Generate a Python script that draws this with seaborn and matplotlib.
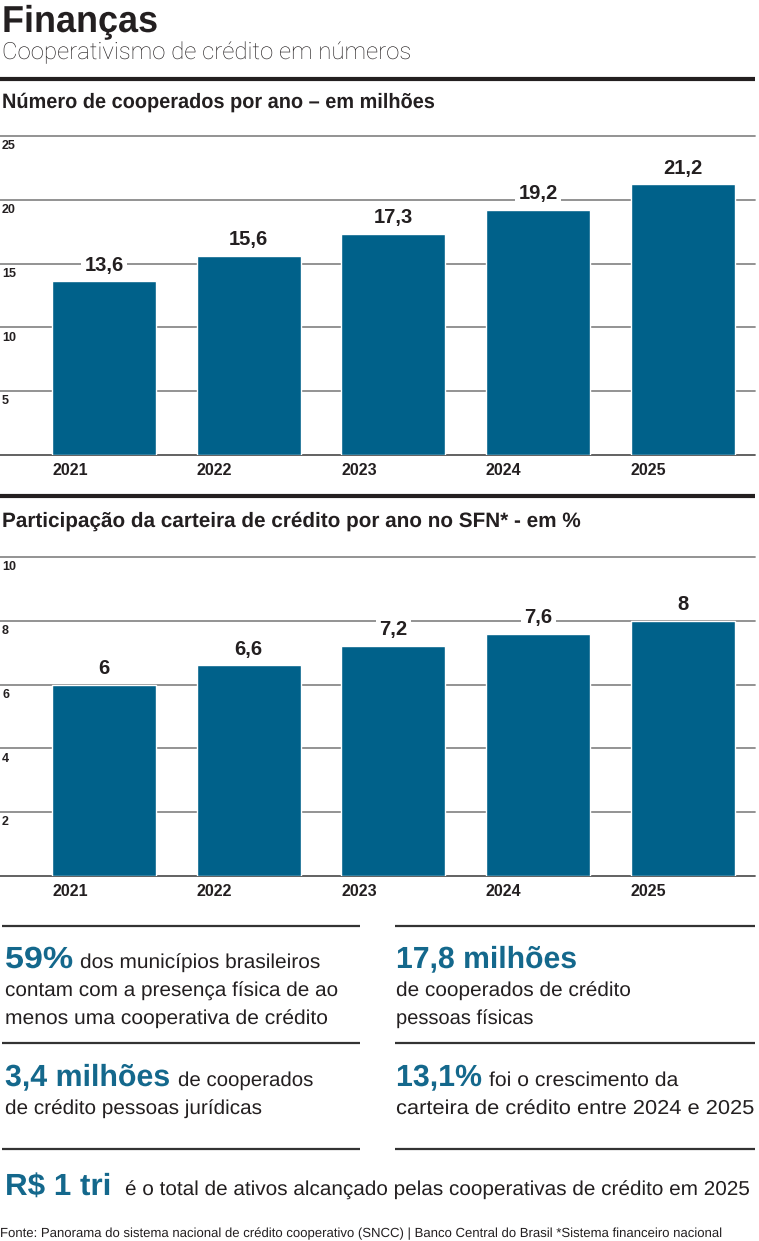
import matplotlib
matplotlib.use("Agg")
import matplotlib.pyplot as plt
from matplotlib.lines import Line2D
from matplotlib.patheffects import AbstractPathEffect
from matplotlib.transforms import Affine2D
import pandas as pd
import seaborn as sns

# data
years = ["2021", "2022", "2023", "2024", "2025"]
cooperados = [13.6, 15.6, 17.3, 19.2, 21.2]
carteira = [6.0, 6.6, 7.2, 7.6, 8.0]
cooperados_ticks = [5, 10, 15, 20, 25]
carteira_ticks = [2, 4, 6, 8, 10]

W, H = 759, 1241
BAR = "#00618a"
TEAL = "#14688c"
INK = "#231f20"
GRID = "#8a8a8a"

sns.set_theme(style="white")
plt.rcParams["font.family"] = ["Liberation Sans", "DejaVu Sans"]

fig = plt.figure(figsize=(W / 100, H / 100), dpi=100)
fitted = []


class Squeeze(AbstractPathEffect):
    """draw text narrower/wider around its left baseline point (no condensed font here)"""

    def __init__(self, sx):
        super().__init__()
        self.sx = sx

    def draw_path(self, renderer, gc, tpath, affine, rgbFace=None):
        ox, oy = affine.transform((0, 0))
        aff = affine + Affine2D().translate(-ox, -oy).scale(self.sx, 1).translate(ox, oy)
        renderer.draw_path(gc, tpath, aff, rgbFace)


def fx(x):
    return x / W


def fy(y):
    return 1 - y / H


def hline(y, x0, x1, lw, color=INK):
    fig.add_artist(Line2D([fx(x0), fx(x1)], [fy(y), fy(y)], transform=fig.transFigure,
                          color=color, lw=lw, solid_capstyle="butt"))


def text_fit(x0, x1, y, s, **kw):
    t = fig.text(fx(x0), fy(y), s, ha="left", va="baseline", **kw)
    fitted.append((t, x1 - x0))
    return t


def fmt(v):
    return f"{v:g}".replace(".", ",")


def bar_panel(top, bottom, values, ticks):
    ax = fig.add_axes([0, fy(bottom), fx(755), (bottom - top) / H])
    df = pd.DataFrame({"ano": years, "valor": values})
    sns.barplot(data=df, x="ano", y="valor", color=BAR, saturation=1, width=0.72, ax=ax, zorder=2)
    ax.set_xlim(-0.72, 4.5)
    ax.set_ylim(0, ticks[-1])
    for s in ax.spines.values():
        s.set_visible(False)
    ax.set_xticks([])
    ax.set_yticks([])
    ax.set_xlabel("")
    ax.set_ylabel("")
    ax.axhline(0, color="#555555", lw=1.3, zorder=1, clip_on=False)
    for t in ticks:
        ax.axhline(t, color=GRID, lw=1.3, zorder=1, clip_on=False)
        ax.annotate(str(t), xy=(0, t), xycoords=("axes fraction", "data"), xytext=(1.5, -3),
                    textcoords="offset points", ha="left", va="top", fontsize=9,
                    fontweight="bold", color=INK)
    for i, v in enumerate(values):
        ax.annotate(fmt(v), xy=(i, v), xytext=(0, 5), textcoords="offset points",
                    ha="center", va="bottom", fontsize=14.5, fontweight="bold", color=INK,
                    zorder=3, bbox=dict(facecolor="white", edgecolor="none", pad=2.5))
        ax.annotate(years[i], xy=(i - 0.36, 0), xytext=(0, -6), textcoords="offset points",
                    ha="left", va="top", fontsize=11.5, fontweight="bold", color=INK)
    return ax


# header
text_fit(2, 158, 32, "Finanças", fontsize=27, fontweight="heavy", color=INK)
text_fit(2, 410, 59, "Cooperativismo de crédito em números", fontsize=17, fontweight="light",
         color=INK, family=["Roboto", "Liberation Sans"])
hline(79, 0, 755, 3)

text_fit(2, 437, 108, "Número de cooperados por ano – em milhões", fontsize=15,
         fontweight="bold", color=INK)
bar_panel(136, 455, cooperados, cooperados_ticks)

hline(496, 0, 755, 3)
text_fit(2, 583, 527, "Participação da carteira de crédito por ano no SFN* - em %", fontsize=15,
         fontweight="bold", color=INK)
bar_panel(557, 876, carteira, carteira_ticks)

# highlights
for y in (926, 1043, 1149):
    hline(y, 2, 360, 1.6, "#333333")
    hline(y, 395, 755, 1.6, "#333333")

big = dict(fontsize=22, fontweight="bold", color=TEAL)
body = dict(fontsize=14.5, color=INK)

text_fit(5, 73, 968, "59%", **big)
text_fit(80, 321, 968, "dos municípios brasileiros", **body)
text_fit(5, 339, 996, "contam com a presença física de ao", **body)
text_fit(5, 329, 1024, "menos uma cooperativa de crédito", **body)

text_fit(396, 577, 968, "17,8 milhões", **big)
text_fit(396, 632, 996, "de cooperados de crédito", **body)
text_fit(396, 534, 1024, "pessoas físicas", **body)

text_fit(5, 170, 1086, "3,4 milhões", **big)
text_fit(178, 314, 1086, "de cooperados", **body)
text_fit(5, 263, 1114, "de crédito pessoas jurídicas", **body)

text_fit(396, 482, 1086, "13,1%", **big)
text_fit(489, 679, 1086, "foi o crescimento da", **body)
text_fit(396, 755, 1114, "carteira de crédito entre 2024 e 2025", **body)

text_fit(5, 111, 1195, "R$ 1 tri", **big)
text_fit(125, 752, 1195, "é o total de ativos alcançado pelas cooperativas de crédito em 2025",
         fontsize=14.5, color=INK)

text_fit(0, 722, 1237, "Fonte: Panorama do sistema nacional de crédito cooperativo (SNCC) | "
         "Banco Central do Brasil *Sistema financeiro nacional", fontsize=9.5, color=INK)

renderer = fig.canvas.get_renderer()
for t, target in fitted:
    width = t.get_window_extent(renderer=renderer).width
    t.set_path_effects([Squeeze(target / width)])

fig.savefig("out.png", dpi=100)
